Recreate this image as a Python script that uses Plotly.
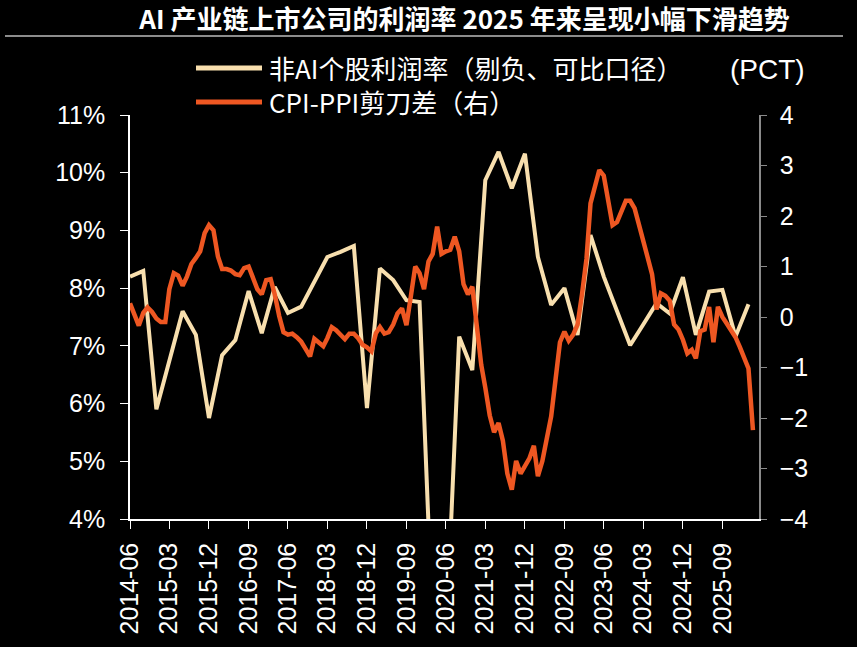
import plotly.graph_objects as go
import pandas as pd

# ---------------- data ----------------
title_text = "AI 产业链上市公司的利润率 2025 年来呈现小幅下滑趋势"
name_margin = "非AI个股利润率（剔负、可比口径）"
name_gap = "CPI-PPI剪刀差（右）"
unit_right = "(PCT)"

# quarterly profit margin (%), 2014-06 .. 2026-03
margin_start = "2014-06-01"
margin_values = [
    8.2, 8.3, 5.9, 6.75, 7.6, 7.19, 5.75, 6.84, 7.1, 7.95, 7.22, 8.02,
    7.57, 7.68, 8.1, 8.54, 8.63, 8.73, 5.92, 8.34, 8.14, 7.79, 7.76, 2.1,
    1.9, 7.16, 6.58, 9.87, 10.36, 9.73, 10.33, 8.54, 7.71, 8.0, 7.19, 8.92,
    8.2, 7.6, 7.01, 7.37, 7.74, 7.56, 8.19, 7.19, 7.94, 7.97, 7.16, 7.72,
]

# monthly CPI-PPI scissors gap (pct), 2014-06 .. 2026-04
gap_start = "2014-06-01"
gap_values = [
    0.27, 0.04, -0.17, 0.08, 0.19, 0.1, -0.03, -0.1, -0.1, 0.55, 0.87, 0.82,
    0.62, 0.8, 1.05, 1.17, 1.3, 1.66, 1.82, 1.72, 1.2, 0.95, 0.95, 0.92,
    0.85, 0.83, 0.97, 1.0, 0.78, 0.55, 0.45, 0.73, 0.75, 0.45, 0.02, -0.3,
    -0.35, -0.33, -0.4, -0.49, -0.63, -0.78, -0.43, -0.5, -0.58, -0.42, -0.2, -0.26,
    -0.35, -0.44, -0.33, -0.33, -0.42, -0.55, -0.6, -0.68, -0.32, -0.2, -0.33, -0.3,
    -0.15, 0.07, 0.17, -0.16, 0.4, 1.0, 0.87, 0.55, 1.1, 1.25, 1.79, 1.25,
    1.3, 1.33, 1.59, 1.3, 0.65, 0.45, 0.6, -0.1, -0.95, -1.4, -1.95, -2.28,
    -2.1, -2.45, -3.1, -3.42, -2.85, -3.1, -2.95, -2.8, -2.55, -3.15, -2.85, -2.45,
    -1.97, -1.25, -0.5, -0.29, -0.47, -0.35, -0.15, 0.45, 1.15, 2.25, 2.6, 2.91,
    2.8, 2.28, 1.82, 1.88, 2.1, 2.3, 2.3, 2.15, 1.82, 1.5, 1.19, 0.85,
    0.15, 0.47, 0.42, 0.32, -0.15, -0.25, -0.45, -0.72, -0.65, -0.82, -0.28, -0.25,
    0.2, -0.5, 0.2, 0.0, -0.13, -0.26, -0.4, -0.6, -0.85, -1.02, -2.24,
]

tick_labels = [
    "2014-06", "2015-03", "2015-12", "2016-09", "2017-06", "2018-03",
    "2018-12", "2019-09", "2020-06", "2021-03", "2021-12", "2022-09",
    "2023-06", "2024-03", "2024-12", "2025-09",
]

margin_dates = pd.date_range(margin_start, periods=len(margin_values), freq="3MS")
gap_dates = pd.date_range(gap_start, periods=len(gap_values), freq="MS")
tick_vals = [t + "-01" for t in tick_labels]

# ---------------- styles ----------------
CREAM = "#F8DFAE"
ORANGE = "#EE5722"
FONT = "Liberation Sans, Noto Sans CJK SC, sans-serif"
CJK = "Noto Sans CJK SC, Liberation Sans, sans-serif"

fig = go.Figure()
fig.add_trace(go.Scatter(x=margin_dates, y=margin_values, mode="lines",
                         name=name_margin, line=dict(color=CREAM, width=4)))
fig.add_trace(go.Scatter(x=gap_dates, y=gap_values, mode="lines", yaxis="y2",
                         name=name_gap, line=dict(color=ORANGE, width=4.5)))

fig.update_layout(
    width=857, height=647,
    paper_bgcolor="#000000", plot_bgcolor="#000000",
    margin=dict(l=130, r=98, t=115, b=128, autoexpand=False),
    showlegend=False,
    font=dict(family=FONT, color="#FFFFFF"),
    title=dict(text="<b>" + title_text + "</b>", x=0.542, xanchor="center",
               y=1 - 20 / 647, yanchor="middle", yref="container",
               font=dict(size=26, color="#FFFFFF", family=CJK)),
    xaxis=dict(type="date", range=["2014-06-01", "2026-05-13"],
               tickmode="array", tickvals=tick_vals, ticktext=tick_labels,
               tickangle=-90, ticks="outside", ticklen=8, tickcolor="#FFFFFF",
               showline=True, linecolor="#FFFFFF", linewidth=1.5,
               showgrid=False, zeroline=False, ticklabelstandoff=4,
               tickfont=dict(size=25, color="#FFFFFF")),
    yaxis=dict(range=[4, 11], dtick=1, ticksuffix="%", ticks="outside",
               ticklen=8, tickcolor="#FFFFFF", showline=True, linecolor="#FFFFFF",
               linewidth=1.5, showgrid=False, zeroline=False, ticklabelstandoff=10,
               tickfont=dict(size=25, color="#FFFFFF")),
    yaxis2=dict(range=[-4, 4], dtick=1, overlaying="y", side="right",
                ticks="outside", ticklen=6, tickcolor="#8A8A8A", showline=True,
                linecolor="#8A8A8A", linewidth=1.5, showgrid=False, zeroline=False,
                ticklabelstandoff=8, tickfont=dict(size=25, color="#FFFFFF")),
)

# title underline
fig.add_shape(type="line", xref="paper", yref="paper",
              x0=(5 - 130) / 629, x1=(843 - 130) / 629,
              y0=(519 - 36) / 404, y1=(519 - 36) / 404,
              line=dict(color="#8C8C8C", width=2))

# manual legend
legend_rows = [(name_margin, CREAM, 68), (name_gap, ORANGE, 102)]
for label, color, ypx in legend_rows:
    yp = (519 - ypx) / 404
    fig.add_shape(type="line", xref="paper", yref="paper",
                  x0=(196 - 130) / 629, x1=(262 - 130) / 629, y0=yp, y1=yp,
                  line=dict(color=color, width=5))
    fig.add_annotation(xref="paper", yref="paper", x=(267 - 130) / 629, y=yp,
                       xanchor="left", yanchor="middle", text=label, showarrow=False,
                       font=dict(size=26, color="#FFFFFF", family=CJK))

fig.add_annotation(xref="paper", yref="paper", x=(767 - 130) / 629, y=(519 - 70) / 404,
                   xanchor="center", yanchor="middle", text=unit_right, showarrow=False,
                   font=dict(size=28, color="#FFFFFF", family=FONT))

fig.write_html("out.html", config={"displayModeBar": False},
               post_script="document.body.style.margin='0px';document.body.style.overflow='hidden';")
